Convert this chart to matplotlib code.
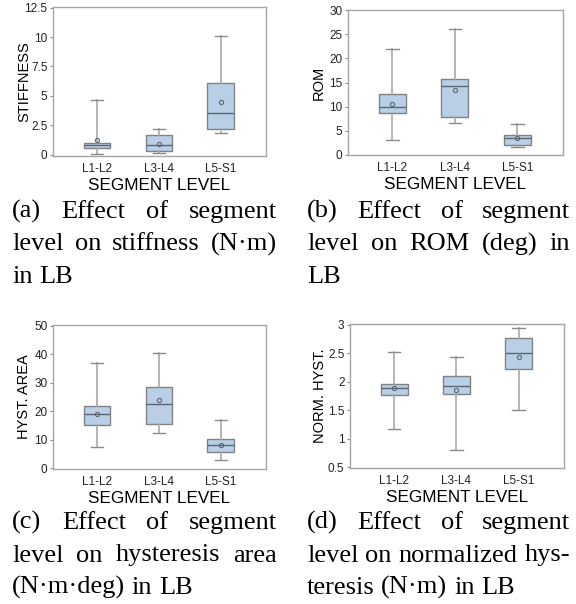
import matplotlib
matplotlib.use("Agg")
import matplotlib.pyplot as plt

plt.rcParams['font.family'] = ['Liberation Sans', 'DejaVu Sans']

segments = ['L1-L2', 'L3-L4', 'L5-S1']

# stiffness (N*m)
stiff_low = [0.06, 0.14, 1.83]
stiff_q1 = [0.56, 0.31, 2.2]
stiff_med = [0.87, 0.82, 3.53]
stiff_q3 = [1.04, 1.72, 6.12]
stiff_high = [4.66, 2.17, 10.07]
stiff_mean = [1.27, 0.93, 4.51]

# ROM (deg)
rom_low = [3.1, 6.55, 1.66]
rom_q1 = [8.69, 7.79, 2.0]
rom_med = [9.93, 14.34, 3.38]
rom_q3 = [12.69, 15.72, 4.07]
rom_high = [22.07, 26.2, 6.34]
rom_mean = [10.48, 13.45, 3.38]

# hysteresis area (N*m*deg)
hyst_low = [7.58, 12.35, 2.9]
hyst_q1 = [15.03, 15.6, 5.6]
hyst_med = [19.0, 22.5, 8.16]
hyst_q3 = [21.68, 28.4, 10.26]
hyst_high = [37.06, 40.3, 16.8]
hyst_mean = [19.1, 24.1, 8.27]

# normalized hysteresis (N*m)
norm_low = [1.172, 0.804, 1.505]
norm_q1 = [1.768, 1.779, 2.22]
norm_med = [1.884, 1.925, 2.50]
norm_q3 = [1.966, 2.095, 2.76]
norm_high = [2.515, 2.428, 2.936]
norm_mean = [1.896, 1.861, 2.44]

panels = [
    ('STIFFNESS', stiff_low, stiff_q1, stiff_med, stiff_q3, stiff_high, stiff_mean,
     [0, 2.5, 5, 7.5, 10, 12.5], ['0', '2.5', '5', '7.5', '10', '12.5'], (-0.1, 12.55)),
    ('ROM', rom_low, rom_q1, rom_med, rom_q3, rom_high, rom_mean,
     [0, 5, 10, 15, 20, 25, 30], ['0', '5', '10', '15', '20', '25', '30'], (-0.1, 30.1)),
    ('HYST. AREA', hyst_low, hyst_q1, hyst_med, hyst_q3, hyst_high, hyst_mean,
     [0, 10, 20, 30, 40, 50], ['0', '10', '20', '30', '40', '50'], (-0.2, 50.2)),
    ('NORM. HYST.', norm_low, norm_q1, norm_med, norm_q3, norm_high, norm_mean,
     [0.5, 1, 1.5, 2, 2.5, 3], ['0.5', '1', '1.5', '2', '2.5', '3'], (0.49, 3.01)),
]

captions = [
    [['(a)', 'Effect', 'of', 'segment'], ['level', 'on', 'stiffness', '(N·m)'], ['in', 'LB']],
    [['(b)', 'Effect', 'of', 'segment'], ['level', 'on', 'ROM', '(deg)', 'in'], ['LB']],
    [['(c)', 'Effect', 'of', 'segment'], ['level', 'on', 'hysteresis', 'area'], ['(N·m·deg)', 'in', 'LB']],
    [['(d)', 'Effect', 'of', 'segment'], ['level', 'on', 'normalized', 'hys-'], ['teresis', '(N·m)', 'in', 'LB']],
]

W, H = 576, 604
fig = plt.figure(figsize=(W / 100, H / 100), dpi=100)

# axes boxes in pixels: left, top, right, bottom
ax_px = [(53, 7, 266, 156), (348, 10, 563, 155), (53, 325, 266, 469), (350, 324, 564, 468)]
# caption columns: left, right, first baseline
cap_px = [(12, 277, 218), (307, 570, 218), (12, 277, 529), (307, 570, 529)]
# right edge of the rotated y label, in pixels
ylab_x = [31, 326, 31, 327]

frame_col = '#a6a6a6'
for (name, lo, q1, med, q3, hi, mn, yt, ytl, ylim), (l, t, r, b), yx in zip(panels, ax_px, ylab_x):
    ax = fig.add_axes([l / W, 1 - b / H, (r - l) / W, (b - t) / H])
    stats = []
    for i in range(len(segments)):
        stats.append(dict(whislo=lo[i], q1=q1[i], med=med[i], q3=q3[i], whishi=hi[i],
                          mean=mn[i], fliers=[], label=segments[i]))
    ax.bxp(stats, positions=[1, 2, 3], widths=0.43, patch_artist=True, showmeans=True,
           boxprops=dict(facecolor='#b9cfe5', edgecolor='#7f8388', linewidth=1.0),
           medianprops=dict(color='#5d6670', linewidth=1.0),
           whiskerprops=dict(color='#a9a9a9', linewidth=1.2),
           capprops=dict(color='#8a8a8a', linewidth=1.0),
           capwidths=0.2,
           meanprops=dict(marker='o', markersize=3.0, markerfacecolor='none',
                          markeredgecolor='#5d6670', markeredgewidth=0.8))
    ax.set_xlim(0.29, 3.73)
    ax.set_ylim(*ylim)
    ax.set_yticks(yt)
    ax.set_yticklabels(ytl)
    ax.set_xticks([1, 2, 3])
    ax.set_xticklabels(segments)
    ax.tick_params(axis='both', labelsize=8.5, colors='#8a8a8a', labelcolor='#222222', length=2.5, pad=1.5)
    ax.tick_params(axis='x', length=0, pad=5)
    for s in ax.spines.values():
        s.set_color(frame_col)
        s.set_linewidth(1.0)
    ax.set_ylabel(name, fontsize=10.5)
    ax.yaxis.set_label_coords((yx - l) / (r - l), 0.5)
    ax.set_xlabel('SEGMENT LEVEL', fontsize=12.3, labelpad=2)

# justified captions
fig.canvas.draw()
renderer = fig.canvas.get_renderer()
cap_size = 19
cap_font = dict(family='Liberation Serif', fontsize=cap_size)
space = 0.25 * cap_size * 100 / 72
pitch = 32.5
for lines, (l, r, y0) in zip(captions, cap_px):
    for k, words in enumerate(lines):
        yb = 1 - (y0 + k * pitch) / H
        texts = [fig.text(0, yb, w, ha='left', va='baseline', **cap_font) for w in words]
        widths = [tx.get_window_extent(renderer).width for tx in texts]
        if k < len(lines) - 1 and len(words) > 1:
            gap = ((r - l) - sum(widths)) / (len(words) - 1)
        else:
            gap = space
        x = l
        for tx, wd in zip(texts, widths):
            tx.set_x(x / W)
            x += wd + gap

fig.savefig('out.png', dpi=100)
